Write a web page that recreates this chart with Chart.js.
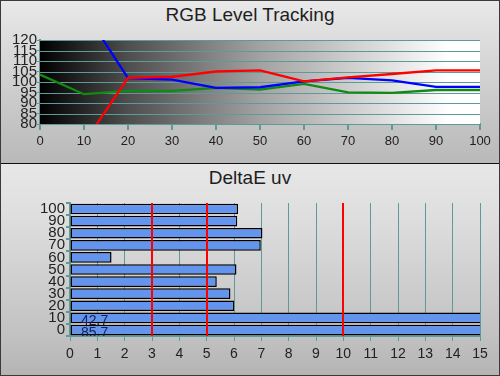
<!DOCTYPE html>
<html>
<head>
<meta charset="utf-8">
<script src="https://cdn.jsdelivr.net/npm/chart.js@4.4.1/dist/chart.umd.min.js"></script>
<style>
  html,body{margin:0;padding:0;background:#fff}
  #wrap{position:relative;width:500px;height:376px;overflow:hidden;font-family:"Liberation Sans",Arial,sans-serif}
  .pan{position:absolute;left:0;width:500px}
  #pTop{top:0;height:163px;background:linear-gradient(#e9e9e9 0%,#dedede 22%,#c4c4c4 75%,#b9b9b9 100%)}
  #sep{top:163px;height:1px;background:#111}
  #pBot{top:164px;height:212px;background:linear-gradient(#e7e7e7 0%,#dedede 25%,#c2c2c2 80%,#b4b4b4 100%)}
  .ttl{position:absolute;left:0;width:500px;text-align:center;font-size:19px;color:#1e1e1e}
  canvas{position:absolute;left:0;top:0}
  #frame{position:absolute;left:0;top:0;width:500px;height:376px;box-sizing:border-box;border:1px solid #3a3a3a;pointer-events:none}
</style>
</head>
<body>
<div id="wrap">
  <div class="pan" id="pTop"><div class="ttl" style="top:4px">RGB Level Tracking</div><canvas id="cRGB" width="500" height="163"></canvas></div>
  <div class="pan" id="sep"></div>
  <div class="pan" id="pBot"><div class="ttl" style="top:3px">DeltaE uv</div><canvas id="cDE" width="500" height="212"></canvas></div>
  <div id="frame"></div>
</div>
<script>
// --- data ---
const rgbLevels=['0','10','20','30','40','50','60','70','80','90','100'];
const redVals  =[null,71,102,102.5,105,105.5,100.3,102.2,103.8,105.5,105.5];
const greenVals=[103.5,94.2,95.8,95.8,97.2,96.4,99.1,95.1,94.8,96.2,96.2];
const blueVals =[null,134,101.9,101.1,97.2,97.5,100.3,102,100.8,97.7,97.7];
const rgbTicks=[80,85,90,95,100,105,110,115,120];

const deLevels=['0','10','20','30','40','50','60','70','80','90','100'];
const deVals  =[85.7,42.7,6.01,5.87,5.37,6.09,1.52,6.98,7.04,6.12,6.15];
const deMax=15;
const refLines=[3,5,10];

const TEAL='#5f9a98';
const TXT='#222';
Chart.defaults.font.family='"Liberation Sans", Arial, sans-serif';
Chart.defaults.animation=false;

// grayscale ramp behind the RGB plot
const rampBg={id:'rampBg',beforeDatasetsDraw(c){
  const a=c.chartArea,ctx=c.ctx;
  const g=ctx.createLinearGradient(a.left,0,a.right,0);
  g.addColorStop(0,'#000');g.addColorStop(0.2,'#4e4e4e');g.addColorStop(0.5,'#a2a2a2');
  g.addColorStop(0.8,'#e2e2e2');g.addColorStop(0.93,'#fff');g.addColorStop(1,'#fff');
  ctx.save();ctx.fillStyle=g;ctx.fillRect(a.left,a.top,a.right-a.left,a.bottom-a.top);
  // redraw horizontal grid on top of the ramp
  const y=c.scales.y;ctx.strokeStyle=TEAL;ctx.lineWidth=1;
  y.ticks.forEach(t=>{const py=Math.round(y.getPixelForValue(t.value))+0.5;ctx.beginPath();ctx.moveTo(a.left,py);ctx.lineTo(a.right,py);ctx.stroke()});
  ctx.restore();
}};

new Chart(document.getElementById('cRGB'),{
  type:'line',
  data:{labels:rgbLevels,datasets:[
    {label:'R',data:redVals,borderColor:'#ff0000',borderWidth:2.3,pointRadius:0,tension:0},
    {label:'B',data:blueVals,borderColor:'#0000ff',borderWidth:2.3,pointRadius:0,tension:0},
    {label:'G',data:greenVals,borderColor:'#118a11',borderWidth:2.3,pointRadius:0,tension:0}
  ]},
  plugins:[rampBg],
  options:{responsive:false,
    layout:{padding:{top:40,right:20,left:0,bottom:0}},
    plugins:{legend:{display:false},tooltip:{enabled:false}},
    scales:{
      x:{afterFit(s){s.height=39},
        grid:{drawOnChartArea:false,color:TEAL,lineWidth:2,tickLength:6},
        border:{color:TEAL,width:2},
        ticks:{color:TXT,font:{size:13},padding:4,autoSkip:false,maxRotation:0}},
      y:{min:80,max:120,afterFit(s){s.width=40},
        afterBuildTicks(s){s.ticks=rgbTicks.map(v=>({value:v}))},
        grid:{color:'rgba(0,0,0,0)',tickColor:TEAL,tickLength:3},
        border:{color:TEAL,width:2},
        ticks:{color:TXT,font:{size:15},padding:0,autoSkip:false}}
    }}
});

// red reference lines + overflow value labels
const deExtras={id:'deExtras',afterDatasetsDraw(c){
  const a=c.chartArea,ctx=c.ctx,x=c.scales.x;
  ctx.save();
  ctx.strokeStyle='#ff0000';ctx.lineWidth=2;
  refLines.forEach(v=>{const px=Math.round(x.getPixelForValue(v));ctx.beginPath();ctx.moveTo(px,a.top);ctx.lineTo(px,a.bottom);ctx.stroke()});
  const meta=c.getDatasetMeta(0);
  ctx.beginPath();ctx.rect(a.left,a.top,a.right-a.left,a.bottom-a.top);ctx.clip();
  ctx.fillStyle='#1b1f55';ctx.font='14px "Liberation Sans", Arial, sans-serif';ctx.textBaseline='middle';
  meta.data.forEach((b,i)=>{if(deVals[i]>deMax)ctx.fillText(deVals[i].toFixed(1),a.left+11,b.y+3)});
  ctx.restore();
}};

new Chart(document.getElementById('cDE'),{
  type:'bar',
  data:{labels:deLevels,datasets:[{data:deVals,backgroundColor:'#6394ee',borderColor:'#000',borderWidth:1.5,borderSkipped:false,barPercentage:0.88,categoryPercentage:1}]},
  plugins:[deExtras],
  options:{responsive:false,indexAxis:'y',
    layout:{padding:{top:39,right:20,left:0,bottom:0}},
    plugins:{legend:{display:false},tooltip:{enabled:false}},
    scales:{
      x:{min:0,max:deMax,afterFit(s){s.height=40},
        grid:{color:TEAL,lineWidth:1,tickLength:5},
        border:{color:TEAL,width:2},
        ticks:{stepSize:1,color:TXT,font:{size:14},padding:5,autoSkip:false}},
      y:{reverse:true,afterFit(s){s.width=70},
        grid:{drawOnChartArea:false,color:TEAL,lineWidth:2,tickLength:4},
        border:{color:TEAL,width:2},
        ticks:{color:TXT,font:{size:15},padding:1,autoSkip:false}}
    }}
});
</script>
</body>
</html>
